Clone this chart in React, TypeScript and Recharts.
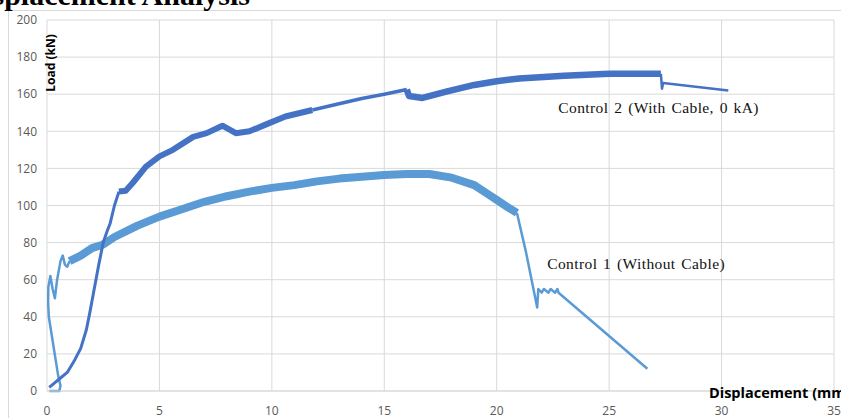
import { LineChart, Line, XAxis, YAxis, CartesianGrid, ReferenceDot } from 'recharts';

type Pt = { x: number; y: number };
const pts = (a: number[][]): Pt[] => a.map(([x, y]) => ({ x, y }));

const xTicks = [0, 5, 10, 15, 20, 25, 30, 35];
const yTicks = [0, 20, 40, 60, 80, 100, 120, 140, 160, 180, 200];

// Control 1 (Without Cable)
const ctrl1Start = pts([
  [0.1, 0], [0.55, 0], [0.6, 3], [0.5, 8], [0.08, 40], [0.05, 48], [0.06, 56], [0.15, 62],
  [0.25, 55], [0.35, 50], [0.45, 60], [0.6, 70], [0.7, 73], [0.8, 68], [0.9, 67], [1.0, 70],
]);
const ctrl1Band = pts([
  [1.0, 70], [1.5, 73], [2, 77], [2.5, 79], [3, 83], [4, 89], [5, 94], [6, 98], [7, 102],
  [8, 105], [9, 107.5], [10, 109.5], [11, 111], [12, 113], [13, 114.5], [14, 115.5],
  [15, 116.5], [16, 117], [17, 117], [18, 115], [19, 111], [19.5, 107], [20, 103],
  [20.5, 99], [20.9, 96],
]);
const ctrl1Tail = pts([
  [20.9, 96], [21.3, 75], [21.8, 45], [21.85, 55], [22.0, 53], [22.1, 55], [22.3, 53],
  [22.4, 55], [22.6, 53], [22.7, 55], [22.75, 53], [26.7, 12],
]);

// Control 2 (With Cable, 0 kA)
const ctrl2Start = pts([
  [0.1, 2], [0.3, 4], [0.6, 7], [0.9, 10], [1.2, 16], [1.5, 23], [1.75, 33], [1.9, 42],
  [2.1, 55], [2.3, 68], [2.5, 80], [2.7, 87], [2.8, 90], [3.0, 100], [3.2, 107.5],
]);
const ctrl2BandA = pts([
  [3.2, 107.5], [3.5, 108], [3.8, 112], [4.4, 121], [5, 126.5], [5.6, 130], [6.5, 137],
  [7.1, 139], [7.8, 143], [8.4, 139], [9, 140], [9.8, 144], [10.6, 148], [11.8, 151.5],
]);
const ctrl2Mid = pts([
  [11.8, 151.5], [12.7, 154], [14, 157.7], [15, 160], [16, 162.5],
]);
const ctrl2BandB = pts([
  [16, 162.5], [16.1, 159], [16.7, 158], [17.8, 161.5], [19, 165], [20, 167], [21, 168.5],
  [23, 170], [25, 171], [27.3, 171],
]);
const ctrl2Tail = pts([[27.3, 171], [27.35, 163], [27.4, 166], [30.3, 162]]);

const C1 = '#5B9BD5';
const C2 = '#4472C4';
const tickStyle = { fontSize: 12, fill: '#595959', fontFamily: 'Open Sans' };
const labelStyle = {
  fontSize: 15.5, fill: '#111', fontFamily: 'Liberation Serif', letterSpacing: 0.4, wordSpacing: 1.5,
};

export default function App() {
  const line = (data: Pt[], color: string, w: number, key: string) => (
    <Line
      key={key}
      data={data}
      dataKey="y"
      type="linear"
      stroke={color}
      strokeWidth={w}
      strokeLinejoin="round"
      dot={false}
      isAnimationActive={false}
    />
  );

  return (
    <div style={{ position: 'fixed', left: 0, top: 0, width: 841, height: 418, overflow: 'hidden', background: '#fff' }}>
      <div style={{ position: 'absolute', left: 8, top: 10, width: 900, height: 500, border: '1px solid #d9d9d9' }} />
      <div style={{ position: 'absolute', left: 0, top: 0 }}>
        <LineChart width={841} height={418} margin={{ top: 20, right: 7, left: 8, bottom: 0 }}>
          <CartesianGrid stroke="#d9d9d9" />
          <XAxis
            type="number"
            dataKey="x"
            domain={[0, 35]}
            ticks={xTicks}
            allowDataOverflow
            height={27}
            tick={tickStyle}
            tickLine={false}
            tickMargin={9}
            axisLine={{ stroke: '#d9d9d9' }}
          />
          <YAxis
            type="number"
            domain={[0, 200]}
            ticks={yTicks}
            width={39}
            tick={tickStyle}
            tickLine={false}
            tickMargin={4}
            axisLine={false}
          />
          {line(ctrl1Start, C1, 2.5, 'c1s')}
          {line(ctrl1Band, C1, 8, 'c1b')}
          {line(ctrl1Tail, C1, 2.5, 'c1t')}
          {line(ctrl2Start, C2, 3, 'c2s')}
          {line(ctrl2BandA, C2, 6, 'c2a')}
          {line(ctrl2Mid, C2, 3.5, 'c2m')}
          {line(ctrl2BandB, C2, 6.5, 'c2b')}
          {line(ctrl2Tail, C2, 2.5, 'c2t')}
          <ReferenceDot x={26.2} y={68.5} r={0} fill="none" stroke="none"
            label={{ value: 'Control 1 (Without Cable)', position: 'center', style: labelStyle }} />
          <ReferenceDot x={27.2} y={153} r={0} fill="none" stroke="none"
            label={{ value: 'Control 2 (With Cable, 0 kA)', position: 'center', style: labelStyle }} />
        </LineChart>
      </div>
      <svg width={841} height={418} style={{ position: 'absolute', left: 0, top: 0, pointerEvents: 'none' }}>
        <text x={250} y={5} textAnchor="end" fontFamily="Liberation Serif" fontWeight="bold" fontSize={30} fill="#000">
          Displacement Analysis
        </text>
        <text x={50} y={63} transform="rotate(-90 50 63)" textAnchor="middle" dominantBaseline="central"
          fontFamily="Open Sans" fontWeight="bold" fontSize={12} fill="#000">
          Load (kN)
        </text>
        <text x={709} y={392} dominantBaseline="central" fontFamily="Open Sans" fontWeight="bold" fontSize={14.5} fill="#000">
          Displacement (mm)
        </text>
      </svg>
    </div>
  );
}
